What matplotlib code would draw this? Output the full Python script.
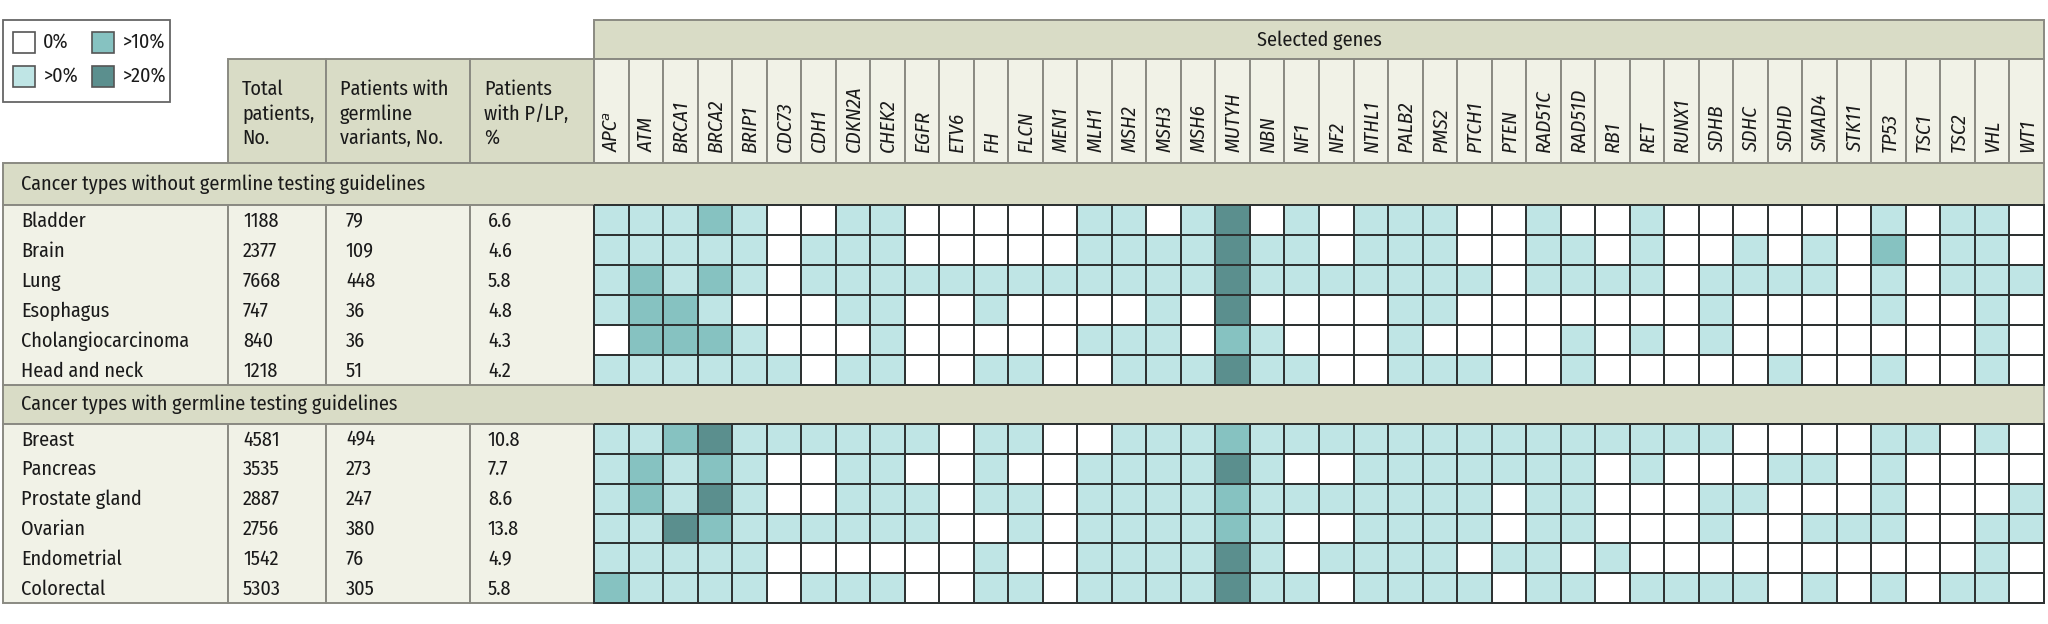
import numpy as np
import matplotlib
matplotlib.use("Agg")
import matplotlib.pyplot as plt
import matplotlib.font_manager as fm
from matplotlib.colors import ListedColormap, BoundaryNorm
from matplotlib.patches import Rectangle

# ---------------- data ----------------
genes = ["APC\u1d43", "ATM", "BRCA1", "BRCA2", "BRIP1", "CDC73", "CDH1", "CDKN2A", "CHEK2",
         "EGFR", "ETV6", "FH", "FLCN", "MEN1", "MLH1", "MSH2", "MSH3", "MSH6", "MUTYH",
         "NBN", "NF1", "NF2", "NTHL1", "PALB2", "PMS2", "PTCH1", "PTEN", "RAD51C", "RAD51D",
         "RB1", "RET", "RUNX1", "SDHB", "SDHC", "SDHD", "SMAD4", "STK11", "TP53", "TSC1",
         "TSC2", "VHL", "WT1"]

section1_title = "Cancer types without germline testing guidelines"
section2_title = "Cancer types with germline testing guidelines"

group1_types = ["Bladder", "Brain", "Lung", "Esophagus", "Cholangiocarcinoma", "Head and neck"]
group1_total = [1188, 2377, 7668, 747, 840, 1218]
group1_variants = [79, 109, 448, 36, 36, 51]
group1_plp = ["6.6", "4.6", "5.8", "4.8", "4.3", "4.2"]

group2_types = ["Breast", "Pancreas", "Prostate gland", "Ovarian", "Endometrial", "Colorectal"]
group2_total = [4581, 3535, 2887, 2756, 1542, 5303]
group2_variants = [494, 273, 247, 380, 76, 305]
group2_plp = ["10.8", "7.7", "8.6", "13.8", "4.9", "5.8"]

# level: 0 = 0%, 1 = >0%, 2 = >10%, 3 = >20%
group1_levels = [
    [1,1,1,2,1,0,0,1,1,0,0,0,0,0, 1,1,0,1,3,0,1,0,1,1,1,0,0,1, 0,0,1,0,0,0,0,0,0,1,0,1,1,0],
    [1,1,1,1,1,0,1,1,1,0,0,0,0,0, 1,1,1,1,3,1,1,0,1,1,1,0,0,1, 1,0,1,0,0,1,0,1,0,2,0,1,1,0],
    [1,2,1,2,1,0,1,1,1,1,1,1,1,1, 1,1,1,1,3,1,1,1,1,1,1,1,0,1, 1,1,1,0,1,1,1,1,0,1,0,1,1,1],
    [1,2,2,1,0,0,0,1,1,0,0,1,0,0, 0,0,1,0,3,0,0,0,0,1,1,0,0,0, 0,0,0,0,1,0,0,0,0,1,0,0,1,0],
    [0,2,2,2,1,0,0,0,1,0,0,0,0,0, 1,1,1,0,2,1,0,0,0,1,0,0,0,0, 1,0,1,0,1,0,0,0,0,0,0,0,1,0],
    [1,1,1,1,1,1,0,1,1,0,0,1,1,0, 0,1,1,1,3,1,1,0,0,1,1,1,0,0, 1,0,0,0,0,0,1,0,0,1,0,0,1,0],
]
group2_levels = [
    [1,1,2,3,1,1,1,1,1,1,0,1,1,0, 0,1,1,1,2,1,1,1,1,1,1,1,1,1, 1,1,1,1,1,0,0,0,0,1,1,0,1,0],
    [1,2,1,2,1,0,0,1,1,0,0,1,0,0, 1,1,1,1,3,1,0,0,1,1,1,1,1,1, 1,0,1,0,0,0,1,1,0,1,0,0,0,0],
    [1,2,1,3,1,0,0,1,1,1,0,1,1,0, 1,1,1,1,2,1,1,1,1,1,1,1,0,1, 1,0,0,0,1,1,0,0,0,1,0,0,0,1],
    [1,1,3,2,1,1,1,1,1,1,0,0,1,0, 1,1,1,1,2,1,0,0,1,1,1,1,0,1, 1,0,0,0,1,0,0,1,1,1,0,0,1,1],
    [1,1,1,1,1,0,0,0,0,0,0,1,0,0, 1,1,1,1,3,1,0,1,1,1,1,0,1,1, 0,1,0,0,0,0,0,0,0,0,0,0,1,0],
    [2,1,1,1,1,0,1,1,1,0,0,1,1,0, 1,1,1,1,3,1,1,0,1,1,1,1,0,1, 1,0,1,1,1,1,0,1,0,1,0,1,1,0],
]

legend_labels = ["0%", ">0%", ">10%", ">20%"]
header_labels = ["Total\npatients,\nNo.", "Patients with\ngermline\nvariants, No.", "Patients\nwith P/LP,\n%"]
genes_title = "Selected genes"

# ---------------- style ----------------
level_colors = ["#ffffff", "#bfe5e5", "#86c2c1", "#5b8f8e"]
band_color = "#d9dcc6"
cell_color = "#f1f2e7"
border_color = "#8a8a82"
grid_color = "#2e3333"
text_color = "#1a1a1a"

available = {f.name for f in fm.fontManager.ttflist}
italic_ok = {f.name for f in fm.fontManager.ttflist if f.style == "italic"}
prefs = ["Fira Sans Condensed", "Open Sans Condensed", "Encode Sans Condensed",
         "Roboto Condensed", "Asap Condensed", "IBM Plex Sans Condensed",
         "Liberation Sans Narrow", "Roboto"]
main_font = next((p for p in prefs if p in available and p in italic_ok), "DejaVu Sans")
FONT = [main_font, "DejaVu Sans"]
FS = 14.5
GFS = 15

plt.rcParams["font.family"] = FONT

W, H = 2048, 624
fig = plt.figure(figsize=(W / 100, H / 100), dpi=100)
ax = fig.add_axes([0, 0, 1, 1])
ax.set_xlim(0, W)
ax.set_ylim(H, 0)
ax.axis("off")

# layout
left = 3
col_edges = [3, 228, 326, 470, 594]
gene_right = 2044
sel_top, head_top, head_bot = 20, 59, 163
sec1_bot, g1_bot, sec2_bot, g2_bot = 205, 385, 424, 603
ngenes = len(genes)
gx = np.linspace(col_edges[-1], gene_right, ngenes + 1)

cmap = ListedColormap(level_colors)
norm = BoundaryNorm([-0.5, 0.5, 1.5, 2.5, 3.5], cmap.N)


def rect(x0, y0, x1, y1, fc, ec=border_color, lw=1.4, z=1):
    ax.add_patch(Rectangle((x0, y0), x1 - x0, y1 - y0, facecolor=fc, edgecolor=ec, lw=lw, zorder=z))


# legend
rect(3, 20, 170, 102, "white", ec="#666666", lw=1.3)
leg_pos = [(13, 42), (13, 76), (92, 42), (92, 76)]
for (lx, ly), lab, c in zip(leg_pos, legend_labels, level_colors):
    rect(lx, ly - 10.5, lx + 22, ly + 10.5, c, ec="#555555", lw=1.2, z=2)
    ax.text(lx + 30, ly, lab, fontsize=FS, va="center", ha="left", color=text_color)

# selected genes band
rect(gx[0], sel_top, gene_right, head_top, band_color)
ax.text((gx[0] + gene_right) / 2, (sel_top + head_top) / 2 + 1, genes_title, fontsize=FS,
        ha="center", va="center", color=text_color)

# header cells
for i, lab in enumerate(header_labels):
    rect(col_edges[i + 1], head_top, col_edges[i + 2], head_bot, band_color)
    ax.text(col_edges[i + 1] + 14, head_top + 21, lab, fontsize=FS, ha="left", va="top",
            color=text_color, linespacing=1.3)

# gene name cells
for j, g in enumerate(genes):
    rect(gx[j], head_top, gx[j + 1], head_bot, cell_color)
    ax.text((gx[j] + gx[j + 1]) / 2 + 1, head_bot - 11, g, fontsize=GFS, rotation=90,
            ha="center", va="bottom", style="italic", color=text_color)

# section bands
for (y0, y1, title) in [(head_bot, sec1_bot, section1_title), (g1_bot, sec2_bot, section2_title)]:
    rect(left, y0, gene_right, y1, band_color)
    ax.text(left + 18, (y0 + y1) / 2, title, fontsize=FS, ha="left", va="center", color=text_color)


def draw_group(y0, y1, types, total, variants, plp, levels):
    n = len(types)
    ys = np.linspace(y0, y1, n + 1)
    for i in range(4):
        rect(col_edges[i], y0, col_edges[i + 1], y1, cell_color)
    for r in range(n):
        yc = (ys[r] + ys[r + 1]) / 2 + 1
        ax.text(left + 18, yc, types[r], fontsize=FS, ha="left", va="center", color=text_color)
        ax.text(col_edges[1] + 15, yc, str(total[r]), fontsize=FS, ha="left", va="center", color=text_color)
        ax.text(col_edges[2] + 20, yc, str(variants[r]), fontsize=FS, ha="left", va="center", color=text_color)
        ax.text(col_edges[3] + 18, yc, plp[r], fontsize=FS, ha="left", va="center", color=text_color)
    ax.pcolormesh(gx, ys, np.array(levels), cmap=cmap, norm=norm,
                  edgecolors=grid_color, linewidth=1.3, zorder=3)


draw_group(sec1_bot, g1_bot, group1_types, group1_total, group1_variants, group1_plp, group1_levels)
draw_group(sec2_bot, g2_bot, group2_types, group2_total, group2_variants, group2_plp, group2_levels)

fig.savefig("out.png", dpi=100, facecolor="white")
